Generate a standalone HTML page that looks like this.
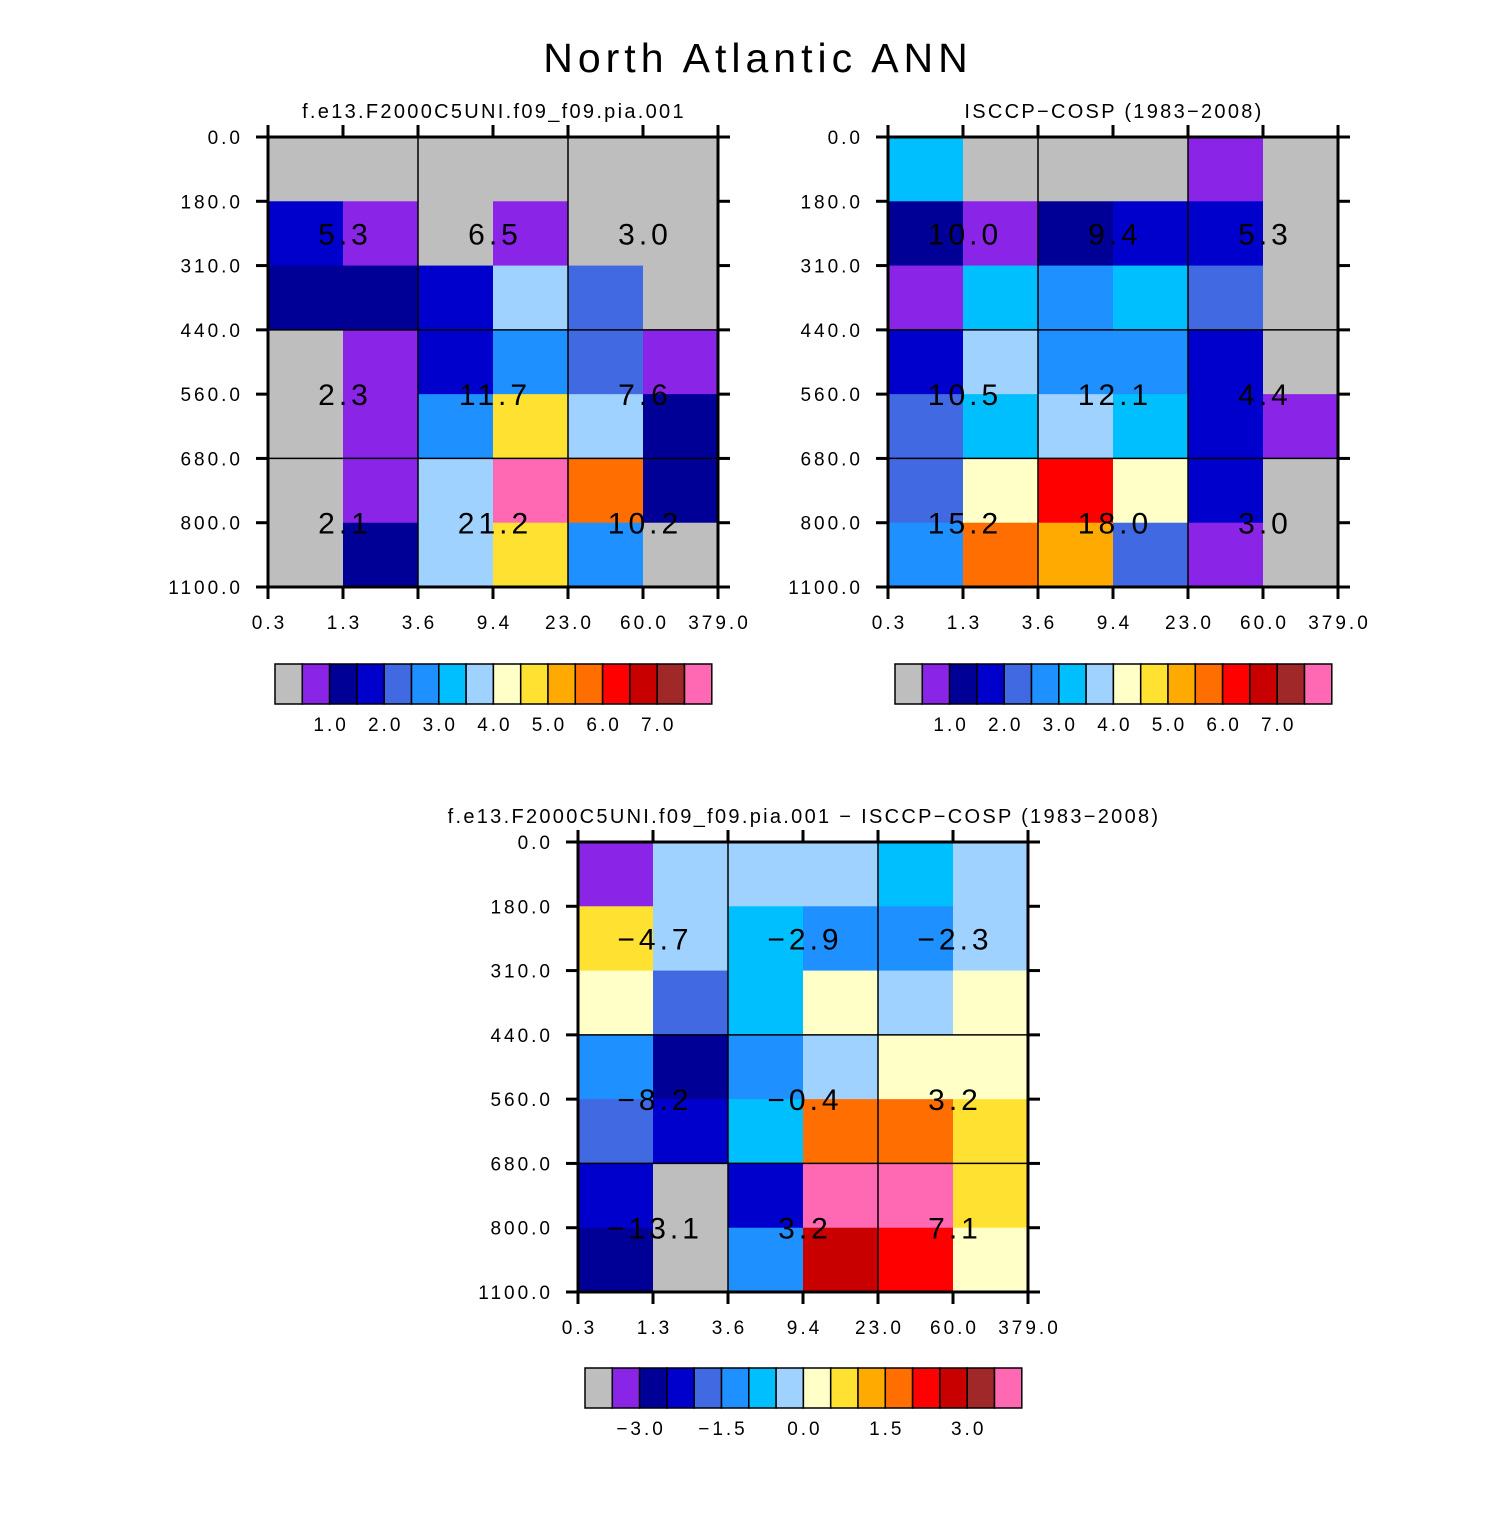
<!DOCTYPE html>
<html><head><meta charset="utf-8">
<style>
html,body{margin:0;padding:0;background:#fff;}
svg text{font-family:"Liberation Sans","DejaVu Sans",sans-serif;fill:#000;}
</style></head>
<body>
<svg id="chart" width="1510" height="1510" viewBox="0 0 1510 1510" xmlns="http://www.w3.org/2000/svg">
<rect width="1510" height="1510" fill="#fff"/>
<text x="758" y="72" font-size="41" text-anchor="middle" letter-spacing="5">North Atlantic ANN</text>
</svg>
<script>
const colors = ["#BEBEBE","#8A25E8","#000096","#0000CD","#4169E1","#1E90FF","#00BFFF","#A0D2FF","#FFFFC8","#FFE132","#FFAA00","#FF6E00","#FF0000","#C80000","#A02828","#FF69B4"];
const xTickLabels = ["0.3","1.3","3.6","9.4","23.0","60.0","379.0"];
const yTickLabels = ["0.0","180.0","310.0","440.0","560.0","680.0","800.0","1100.0"];
const levelsAbs = [0.5,1.0,1.5,2.0,2.5,3.0,3.5,4.0,4.5,5.0,5.5,6.0,6.5,7.0,7.5];
const levelsDiff = [-3.5,-3.0,-2.5,-2.0,-1.5,-1.0,-0.5,0.0,0.5,1.0,1.5,2.0,2.5,3.0,3.5];
const cbLabelsAbs = ["1.0","2.0","3.0","4.0","5.0","6.0","7.0"];
const cbLabelsDiff = ["-3.0","-1.5","0.0","1.5","3.0"];
// model values (rows top->bottom, cols left->right)
const modelValues = [
 [0.2,0.2,0.2,0.2,0.2,0.2],
 [1.75,0.75,0.2,0.75,0.2,0.2],
 [1.25,1.25,1.75,3.75,2.25,0.2],
 [0.2,0.75,1.75,2.75,2.25,0.75],
 [0.2,0.75,2.75,4.75,3.75,1.25],
 [0.2,0.75,3.75,8.0,5.75,1.25],
 [0.2,1.25,3.75,4.75,2.75,0.2]
];
const obsValues = [
 [3.25,0.2,0.2,0.2,0.75,0.2],
 [1.25,0.75,1.25,1.75,1.75,0.2],
 [0.75,3.25,2.75,3.25,2.25,0.2],
 [1.75,3.75,2.75,2.75,1.75,0.2],
 [2.25,3.25,3.75,3.25,1.75,0.75],
 [2.25,4.25,6.25,4.25,1.75,0.2],
 [2.75,5.75,5.25,2.25,0.75,0.2]
];
const diffValues = [
 [-3.25,-0.25,-0.25,-0.25,-0.75,-0.25],
 [0.75,-0.25,-0.75,-1.25,-1.25,-0.25],
 [0.25,-1.75,-0.75,0.25,-0.25,0.25],
 [-1.25,-2.75,-1.25,-0.25,0.25,0.25],
 [-1.75,-2.25,-0.75,1.75,1.75,0.75],
 [-2.25,-4.0,-2.25,4.0,4.0,0.75],
 [-2.75,-4.0,-1.25,2.75,2.25,0.25]
];
const modelBlockLabels = [["5.3","6.5","3.0"],["2.3","11.7","7.6"],["2.1","21.2","10.2"]];
const obsBlockLabels = [["10.0","9.4","5.3"],["10.5","12.1","4.4"],["15.2","18.0","3.0"]];
const diffBlockLabels = [["\u22124.7","\u22122.9","\u22122.3"],["\u22128.2","\u22120.4","3.2"],["\u221213.1","3.2","7.1"]];

const NS="http://www.w3.org/2000/svg";
const svg=document.getElementById('chart');
function mk(tag,attrs,parent){const e=document.createElementNS(NS,tag);for(const k in attrs)e.setAttribute(k,attrs[k]);(parent||svg).appendChild(e);return e;}
function colorIndex(v,levels){let i=0;while(i<levels.length&&v>=levels[i])i++;return i;}

function panel(name,x0,y0,title,values,levels,blockLabels,cbx,cby,cbLabels,cbStep){
  const W=450,H=450,nc=6,nr=7;
  const g=mk('g',{});
  
  
  const xs=c=>x0+c*W/nc, ys=r=>y0+r*H/nr;
  const t=mk('text',{x:x0+W/2+1,y:y0-19,'font-size':20,'text-anchor':'middle','letter-spacing':2.3},g);
  t.textContent=title;
  
  
  for(let r=0;r<nr;r++)for(let c=0;c<nc;c++){
    const cell=mk('rect',{x:xs(c),y:ys(r),width:W/nc+0.5,height:H/nr+0.5,fill:colors[colorIndex(values[r][c],levels)]},g);
    
    
  }
  [2,4].forEach(c=>mk('line',{x1:xs(c),y1:y0,x2:xs(c),y2:y0+H,stroke:'#000','stroke-width':1.5},g));
  [3,5].forEach(r=>mk('line',{x1:x0,y1:ys(r),x2:x0+W,y2:ys(r),stroke:'#000','stroke-width':1.5},g));
  const blockRows=[1.5,4,6], blockCols=[1,3,5];
  for(let i=0;i<3;i++)for(let j=0;j<3;j++){
    const bl=mk('text',{x:xs(blockCols[j])+2,y:ys(blockRows[i])+11,'font-size':30,'text-anchor':'middle','letter-spacing':4},g);
    bl.textContent=blockLabels[i][j];
    
    
  }
  mk('rect',{x:x0,y:y0,width:W,height:H,fill:'none',stroke:'#000','stroke-width':3},g);
  for(let r=0;r<=nr;r++){
    const y=ys(r);
    mk('line',{x1:x0-12,y1:y,x2:x0,y2:y,stroke:'#000','stroke-width':3},g);
    mk('line',{x1:x0+W,y1:y,x2:x0+W+12,y2:y,stroke:'#000','stroke-width':3},g);
    const lt=mk('text',{x:x0-25,y:y+7,'font-size':19,'text-anchor':'end','letter-spacing':3},g);
    lt.textContent=yTickLabels[r];
    
    
  }
  for(let c=0;c<=nc;c++){
    const x=xs(c);
    mk('line',{x1:x,y1:y0-12,x2:x,y2:y0,stroke:'#000','stroke-width':3},g);
    mk('line',{x1:x,y1:y0+H,x2:x,y2:y0+H+12,stroke:'#000','stroke-width':3},g);
    const xt=mk('text',{x:x+1.5,y:y0+H+42,'font-size':19,'text-anchor':'middle','letter-spacing':3},g);
    xt.textContent=xTickLabels[c];
    
    
  }
  const bw=27.3,bh=40;
  for(let i=0;i<colors.length;i++){
    const b=mk('rect',{x:cbx+i*bw,y:cby,width:bw,height:bh,fill:colors[i],stroke:'#000','stroke-width':1.5},g);
    
    
  }
  cbLabels.forEach((lab,k)=>{
    const bi=2+k*cbStep;
    const ct=mk('text',{x:cbx+bi*bw+1.5,y:cby+bh+27,'font-size':19,'text-anchor':'middle','letter-spacing':3},g);
    ct.textContent=lab.replace('-','\u2212');
    
    
  });
}
panel('model-panel',268,137,'f.e13.F2000C5UNI.f09_f09.pia.001',modelValues,levelsAbs,modelBlockLabels,275,664,cbLabelsAbs,2);
panel('obs-panel',888,137,'ISCCP\u2212COSP (1983\u22122008)',obsValues,levelsAbs,obsBlockLabels,895,664,cbLabelsAbs,2);
panel('diff-panel',578,842,'f.e13.F2000C5UNI.f09_f09.pia.001 \u2212 ISCCP\u2212COSP (1983\u22122008)',diffValues,levelsDiff,diffBlockLabels,585,1368,cbLabelsDiff,3);
</script>
</body></html>
